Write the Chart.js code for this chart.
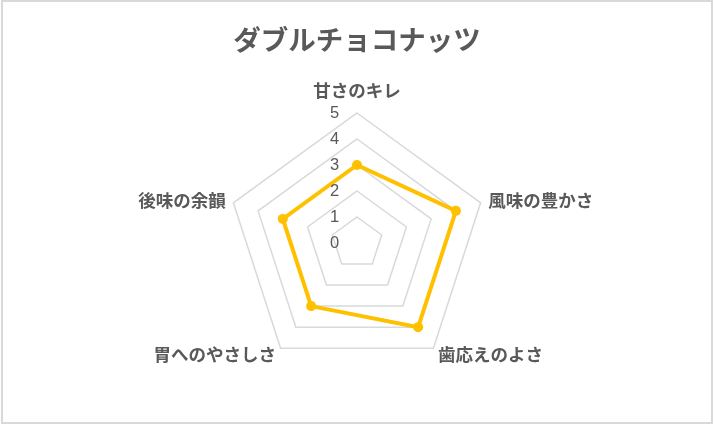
<!DOCTYPE html>
<html>
<head>
<meta charset="utf-8">
<script src="https://cdn.jsdelivr.net/npm/chart.js@4/dist/chart.umd.min.js"></script>
<style>
html,body{margin:0;padding:0;background:#fff;}
canvas{display:block;}
</style>
</head>
<body>
<canvas id="c" width="714" height="424"></canvas>
<script>
const chartTitle = 'ダブルチョコナッツ';
const categories = ['甘さのキレ', '風味の豊かさ', '歯応えのよさ', '胃へのやさしさ', '後味の余韻'];
const seriesValues = [3, 4, 4, 3, 3];
const tickLabels = ['0', '1', '2', '3', '4', '5'];

const textColor = '#595959';
const jpFont = '"Noto Sans CJK JP", "Noto Sans", sans-serif';

const framePlugin = {
  id: 'frame',
  beforeDraw(chart) {
    const ctx = chart.ctx;
    ctx.save();
    ctx.fillStyle = '#ffffff';
    ctx.fillRect(0, 0, chart.width, chart.height);
    ctx.strokeStyle = '#d9d9d9';
    ctx.lineWidth = 2;
    ctx.strokeRect(2, 1, 710, 422);
    ctx.restore();
  }
};

const labelsPlugin = {
  id: 'customLabels',
  afterDraw(chart) {
    const scale = chart.scales.r;
    const ctx = chart.ctx;
    ctx.save();
    // tick labels
    ctx.fillStyle = textColor;
    ctx.font = '16.5px "Liberation Sans", Arial, sans-serif';
    ctx.textAlign = 'center';
    ctx.textBaseline = 'middle';
    tickLabels.forEach((t) => {
      const v = Number(t);
      const d = scale.getDistanceFromCenterForValue(v);
      ctx.fillText(t, scale.xCenter - 22.5, scale.yCenter - d + 0.5);
    });
    // point labels
    ctx.font = 'bold 17.5px ' + jpFont;
    const dist = scale.drawingArea + 8;
    categories.forEach((lab, i) => {
      const p = scale.getPointPosition(i, dist);
      let x = p.x, y = p.y;
      if (Math.abs(p.x - scale.xCenter) < 2) {
        ctx.textAlign = 'center';
        y = p.y - 15;
      } else if (p.x > scale.xCenter) {
        ctx.textAlign = 'left';
      } else {
        ctx.textAlign = 'right';
      }
      ctx.textBaseline = 'middle';
      ctx.fillText(lab, x, y);
    });
    ctx.restore();
  }
};

new Chart(document.getElementById('c'), {
  type: 'radar',
  data: {
    labels: categories,
    datasets: [{
      label: chartTitle,
      data: seriesValues,
      borderColor: '#FFC000',
      backgroundColor: '#FFC000',
      pointBackgroundColor: '#FFC000',
      pointBorderColor: '#FFC000',
      borderWidth: 4,
      pointRadius: 5,
      pointBorderWidth: 0,
      fill: false,
      tension: 0
    }]
  },
  options: {
    responsive: false,
    animation: false,
    devicePixelRatio: 1,
    layout: { padding: { top: 0, bottom: 51, left: 0, right: 0 } },
    plugins: {
      legend: { display: false },
      tooltip: { enabled: false },
      title: {
        display: true,
        text: chartTitle,
        color: textColor,
        font: { family: jpFont, size: 27.5, weight: 'bold', lineHeight: 1.2 },
        padding: { top: 23, bottom: 57 }
      }
    },
    scales: {
      r: {
        min: 0,
        max: 5,
        ticks: { stepSize: 1, display: false },
        angleLines: { display: false },
        grid: { color: '#d9d9d9', lineWidth: 1.5 },
        pointLabels: { display: false }
      }
    }
  },
  plugins: [framePlugin, labelsPlugin]
});
</script>
</body>
</html>
